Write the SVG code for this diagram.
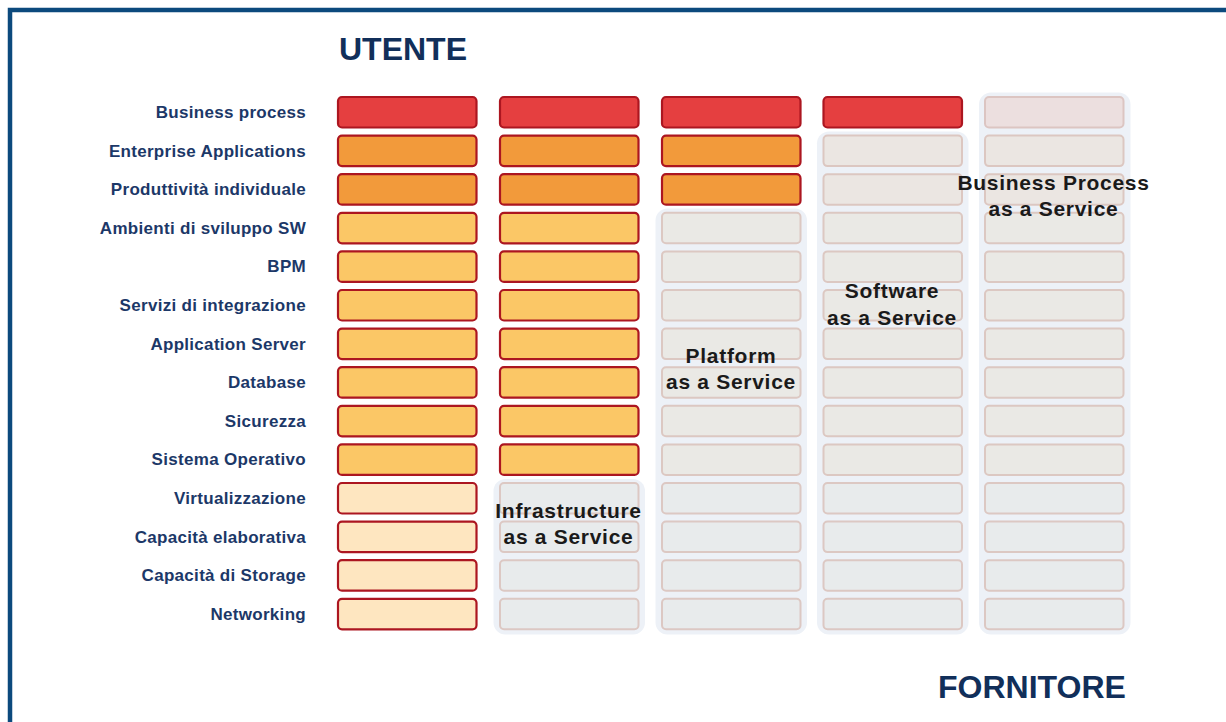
<svg xmlns="http://www.w3.org/2000/svg" width="1226" height="722" viewBox="0 0 1226 722">
  <style>
    .frame { fill: none; stroke: #0c4a7d; stroke-width: 4.5; }
    .title { font-family: "Liberation Sans", Arial, sans-serif; font-weight: bold; font-size: 32px; fill: #112f5a; }
    .layer { font-family: "Liberation Sans", Arial, sans-serif; font-weight: bold; font-size: 17px; letter-spacing: 0.3px; fill: #1c3868; text-anchor: end; }
    .svc { font-family: "Liberation Sans", Arial, sans-serif; font-weight: bold; font-size: 21px; letter-spacing: 0.7px; fill: #1a1a1a; text-anchor: middle; }
    .panel { fill: #edf1f7; }
    .cell { stroke-width: 2.2; }
    .red { fill: #e53f40; stroke: #ac1620; }
    .orange { fill: #f29a3b; stroke: #ac1620; }
    .yellow { fill: #fbc766; stroke: #ac1620; }
    .cream { fill: #fee6c0; stroke: #ac1620; }
    .g1 { fill: #ecdfdf; stroke: #dcc5c2; stroke-width: 2; }
    .g2 { fill: #ebe6e2; stroke: #dcc7c1; stroke-width: 2; }
    .g3 { fill: #eae9e5; stroke: #dcc8c2; stroke-width: 2; }
    .g4 { fill: #e8ebec; stroke: #dcc8c3; stroke-width: 2; }
  </style>

  <!-- outer frame (open towards right and bottom) -->
  <rect class="frame" x="10" y="10" width="1260" height="760"/>

  <!-- headings -->
  <text class="title" x="339" y="60">UTENTE</text>
  <text class="title" x="938" y="698">FORNITORE</text>

  <!-- layer names -->
  <g id="layer-labels">
    <text class="layer" x="306" y="118">Business process</text>
    <text class="layer" x="306" y="157">Enterprise Applications</text>
    <text class="layer" x="306" y="195">Produttività individuale</text>
    <text class="layer" x="306" y="234">Ambienti di sviluppo SW</text>
    <text class="layer" x="306" y="272">BPM</text>
    <text class="layer" x="306" y="311">Servizi di integrazione</text>
    <text class="layer" x="306" y="350">Application Server</text>
    <text class="layer" x="306" y="388">Database</text>
    <text class="layer" x="306" y="427">Sicurezza</text>
    <text class="layer" x="306" y="465">Sistema Operativo</text>
    <text class="layer" x="306" y="504">Virtualizzazione</text>
    <text class="layer" x="306" y="543">Capacità elaborativa</text>
    <text class="layer" x="306" y="581">Capacità di Storage</text>
    <text class="layer" x="306" y="620">Networking</text>
  </g>

  <!-- column 1: on premise -->
  <g id="col-onpremise">
    <rect class="cell red" x="338" y="97" width="138.5" height="30.5" rx="4"/>
    <rect class="cell orange" x="338" y="135.6" width="138.5" height="30.5" rx="4"/>
    <rect class="cell orange" x="338" y="174.2" width="138.5" height="30.5" rx="4"/>
    <rect class="cell yellow" x="338" y="212.8" width="138.5" height="30.5" rx="4"/>
    <rect class="cell yellow" x="338" y="251.4" width="138.5" height="30.5" rx="4"/>
    <rect class="cell yellow" x="338" y="290" width="138.5" height="30.5" rx="4"/>
    <rect class="cell yellow" x="338" y="328.6" width="138.5" height="30.5" rx="4"/>
    <rect class="cell yellow" x="338" y="367.2" width="138.5" height="30.5" rx="4"/>
    <rect class="cell yellow" x="338" y="405.8" width="138.5" height="30.5" rx="4"/>
    <rect class="cell yellow" x="338" y="444.4" width="138.5" height="30.5" rx="4"/>
    <rect class="cell cream" x="338" y="483" width="138.5" height="30.5" rx="4"/>
    <rect class="cell cream" x="338" y="521.6" width="138.5" height="30.5" rx="4"/>
    <rect class="cell cream" x="338" y="560.2" width="138.5" height="30.5" rx="4"/>
    <rect class="cell cream" x="338" y="598.8" width="138.5" height="30.5" rx="4"/>
  </g>

  <!-- column 2: IaaS -->
  <g id="col-iaas">
    <rect class="panel" x="493.5" y="479" width="151.5" height="155.5" rx="12"/>
    <rect class="cell red" x="500" y="97" width="138.5" height="30.5" rx="4"/>
    <rect class="cell orange" x="500" y="135.6" width="138.5" height="30.5" rx="4"/>
    <rect class="cell orange" x="500" y="174.2" width="138.5" height="30.5" rx="4"/>
    <rect class="cell yellow" x="500" y="212.8" width="138.5" height="30.5" rx="4"/>
    <rect class="cell yellow" x="500" y="251.4" width="138.5" height="30.5" rx="4"/>
    <rect class="cell yellow" x="500" y="290" width="138.5" height="30.5" rx="4"/>
    <rect class="cell yellow" x="500" y="328.6" width="138.5" height="30.5" rx="4"/>
    <rect class="cell yellow" x="500" y="367.2" width="138.5" height="30.5" rx="4"/>
    <rect class="cell yellow" x="500" y="405.8" width="138.5" height="30.5" rx="4"/>
    <rect class="cell yellow" x="500" y="444.4" width="138.5" height="30.5" rx="4"/>
    <rect class="g4" x="500" y="483" width="138.5" height="30.5" rx="4"/>
    <rect class="g4" x="500" y="521.6" width="138.5" height="30.5" rx="4"/>
    <rect class="g4" x="500" y="560.2" width="138.5" height="30.5" rx="4"/>
    <rect class="g4" x="500" y="598.8" width="138.5" height="30.5" rx="4"/>
    <text class="svc" x="568.5" y="518">Infrastructure</text>
    <text class="svc" x="568.5" y="544">as a Service</text>
  </g>

  <!-- column 3: PaaS -->
  <g id="col-paas">
    <rect class="panel" x="655.5" y="208.5" width="151.5" height="426" rx="12"/>
    <rect class="cell red" x="662" y="97" width="138.5" height="30.5" rx="4"/>
    <rect class="cell orange" x="662" y="135.6" width="138.5" height="30.5" rx="4"/>
    <rect class="cell orange" x="662" y="174.2" width="138.5" height="30.5" rx="4"/>
    <rect class="g3" x="662" y="212.8" width="138.5" height="30.5" rx="4"/>
    <rect class="g3" x="662" y="251.4" width="138.5" height="30.5" rx="4"/>
    <rect class="g3" x="662" y="290" width="138.5" height="30.5" rx="4"/>
    <rect class="g3" x="662" y="328.6" width="138.5" height="30.5" rx="4"/>
    <rect class="g3" x="662" y="367.2" width="138.5" height="30.5" rx="4"/>
    <rect class="g3" x="662" y="405.8" width="138.5" height="30.5" rx="4"/>
    <rect class="g3" x="662" y="444.4" width="138.5" height="30.5" rx="4"/>
    <rect class="g4" x="662" y="483" width="138.5" height="30.5" rx="4"/>
    <rect class="g4" x="662" y="521.6" width="138.5" height="30.5" rx="4"/>
    <rect class="g4" x="662" y="560.2" width="138.5" height="30.5" rx="4"/>
    <rect class="g4" x="662" y="598.8" width="138.5" height="30.5" rx="4"/>
    <text class="svc" x="731" y="363">Platform</text>
    <text class="svc" x="731" y="389">as a Service</text>
  </g>

  <!-- column 4: SaaS -->
  <g id="col-saas">
    <rect class="panel" x="817" y="131.5" width="151.5" height="503" rx="12"/>
    <rect class="cell red" x="823.5" y="97" width="138.5" height="30.5" rx="4"/>
    <rect class="g2" x="823.5" y="135.6" width="138.5" height="30.5" rx="4"/>
    <rect class="g2" x="823.5" y="174.2" width="138.5" height="30.5" rx="4"/>
    <rect class="g3" x="823.5" y="212.8" width="138.5" height="30.5" rx="4"/>
    <rect class="g3" x="823.5" y="251.4" width="138.5" height="30.5" rx="4"/>
    <rect class="g3" x="823.5" y="290" width="138.5" height="30.5" rx="4"/>
    <rect class="g3" x="823.5" y="328.6" width="138.5" height="30.5" rx="4"/>
    <rect class="g3" x="823.5" y="367.2" width="138.5" height="30.5" rx="4"/>
    <rect class="g3" x="823.5" y="405.8" width="138.5" height="30.5" rx="4"/>
    <rect class="g3" x="823.5" y="444.4" width="138.5" height="30.5" rx="4"/>
    <rect class="g4" x="823.5" y="483" width="138.5" height="30.5" rx="4"/>
    <rect class="g4" x="823.5" y="521.6" width="138.5" height="30.5" rx="4"/>
    <rect class="g4" x="823.5" y="560.2" width="138.5" height="30.5" rx="4"/>
    <rect class="g4" x="823.5" y="598.8" width="138.5" height="30.5" rx="4"/>
    <text class="svc" x="892" y="298">Software</text>
    <text class="svc" x="892" y="325">as a Service</text>
  </g>

  <!-- column 5: BPaaS -->
  <g id="col-bpaas">
    <rect class="panel" x="979" y="92.5" width="151.5" height="542" rx="12"/>
    <rect class="g1" x="985" y="97" width="138.5" height="30.5" rx="4"/>
    <rect class="g2" x="985" y="135.6" width="138.5" height="30.5" rx="4"/>
    <rect class="g2" x="985" y="174.2" width="138.5" height="30.5" rx="4"/>
    <rect class="g3" x="985" y="212.8" width="138.5" height="30.5" rx="4"/>
    <rect class="g3" x="985" y="251.4" width="138.5" height="30.5" rx="4"/>
    <rect class="g3" x="985" y="290" width="138.5" height="30.5" rx="4"/>
    <rect class="g3" x="985" y="328.6" width="138.5" height="30.5" rx="4"/>
    <rect class="g3" x="985" y="367.2" width="138.5" height="30.5" rx="4"/>
    <rect class="g3" x="985" y="405.8" width="138.5" height="30.5" rx="4"/>
    <rect class="g3" x="985" y="444.4" width="138.5" height="30.5" rx="4"/>
    <rect class="g4" x="985" y="483" width="138.5" height="30.5" rx="4"/>
    <rect class="g4" x="985" y="521.6" width="138.5" height="30.5" rx="4"/>
    <rect class="g4" x="985" y="560.2" width="138.5" height="30.5" rx="4"/>
    <rect class="g4" x="985" y="598.8" width="138.5" height="30.5" rx="4"/>
    <text class="svc" x="1053.5" y="190">Business Process</text>
    <text class="svc" x="1053.5" y="216">as a Service</text>
  </g>

  <!-- no connectors in this chart -->
  <g id="connectors"/>
</svg>
